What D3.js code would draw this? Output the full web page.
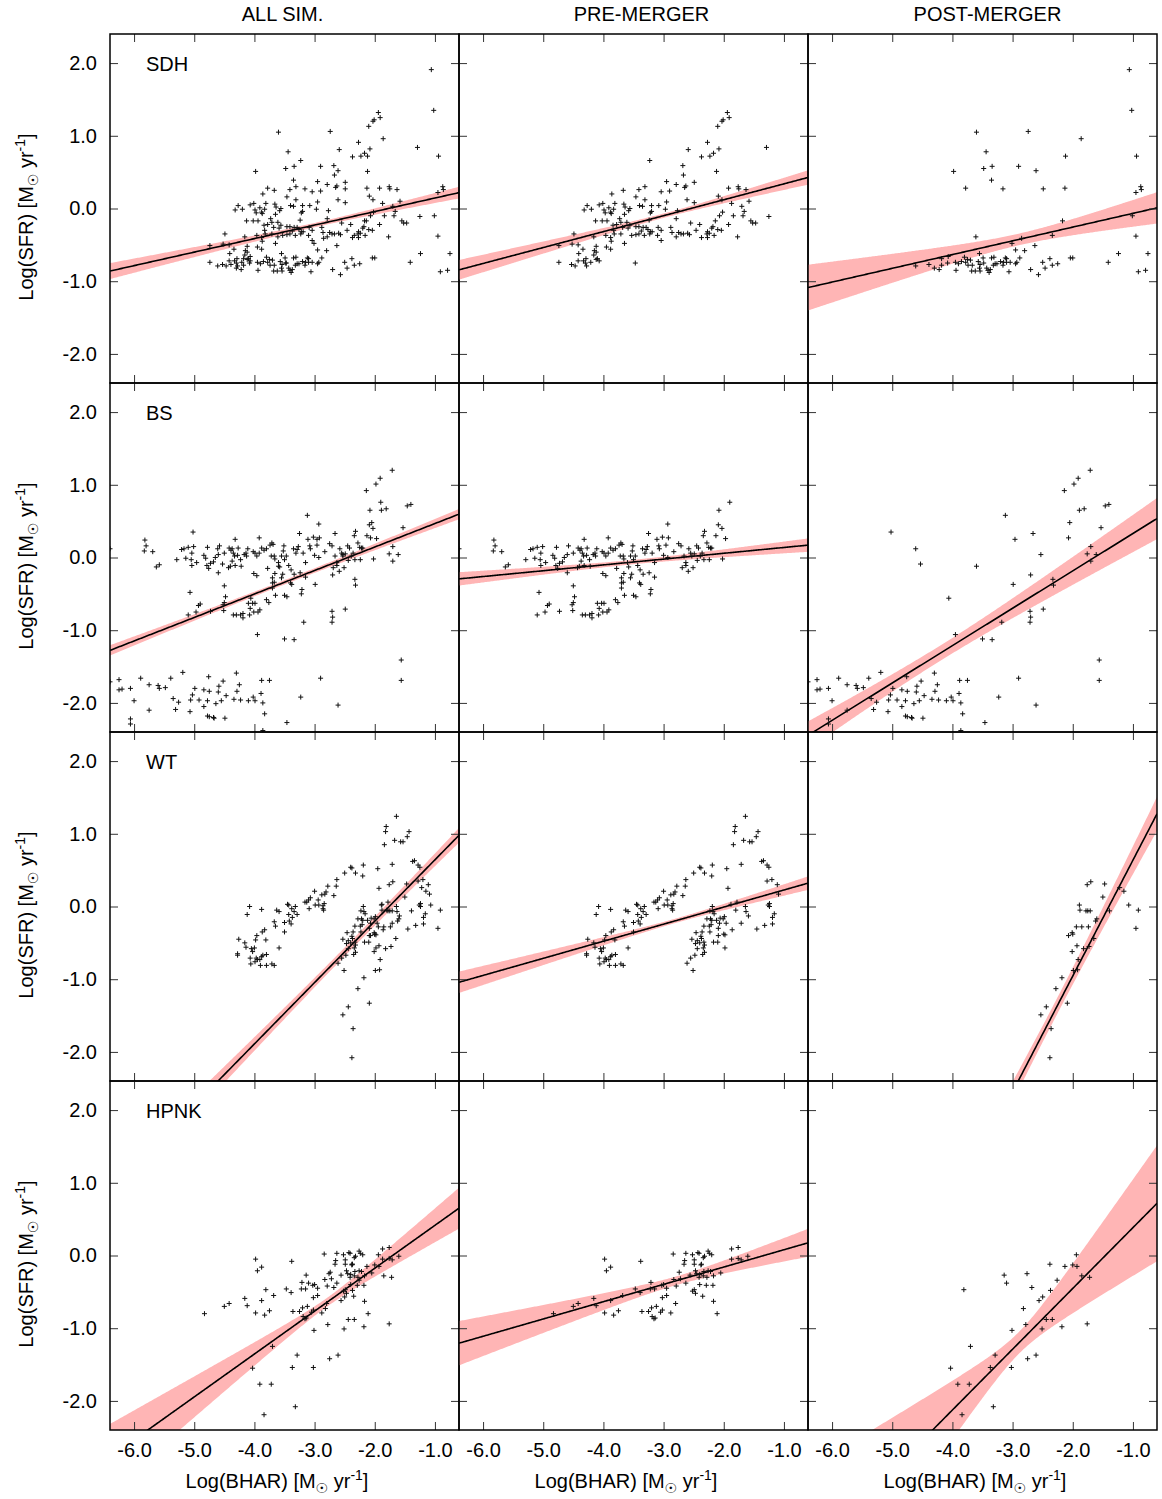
<!DOCTYPE html>
<html><head><meta charset="utf-8">
<script src="https://cdn.jsdelivr.net/npm/d3@7"></script>
<style>body{margin:0;background:#fff}</style>
</head><body><svg id="c" width="1162" height="1499"></svg>
<script>
const simulations = ["SDH","BS","WT","HPNK"];
const phases = ["ALL SIM.","PRE-MERGER","POST-MERGER"];
const xTicks = [-6,-5,-4,-3,-2,-1];
const yTicks = [-2,-1,0,1,2];
const xDomain = [-6.4,-0.6];
const yDomain = [-2.4,2.4];

const sdhPre = [[-1.94,1.32],[-1.91,1.25],[-2.01,1.22],[-2.03,1.20],[-2.10,1.13],[-2.27,0.91],[-2.08,0.82],[-2.17,0.76],[-2.23,0.72],[-2.37,0.71],[-2.59,0.81],[-1.29,0.84],[-3.23,0.66],[-2.68,0.59],[-2.67,0.46],[-2.12,0.51],[-2.95,0.37],[-2.49,0.36],[-2.79,0.33],[-2.63,0.31],[-2.65,0.29],[-3.67,0.25],[-3.86,0.20],[-3.41,0.26],[-3.31,0.30],[-2.90,0.24],[-3.04,0.23],[-2.61,0.12],[-3.31,0.12],[-3.46,0.16],[-2.95,0.09],[-1.92,0.28],[-1.76,0.30],[-1.63,0.26],[-1.75,0.27],[-2.09,0.17],[-2.03,0.12],[-2.49,0.08],[-1.58,0.10],[-1.87,0.07],[-3.20,0.04],[-3.08,0.04],[-3.35,0.03],[-3.40,0.04],[-4.01,0.07],[-4.07,0.05],[-3.81,0.07],[-3.66,0.06],[-3.64,0.02],[-3.58,-0.03],[-3.56,0.00],[-3.83,-0.01],[-3.91,0.01],[-3.88,-0.05],[-3.99,-0.02],[-3.97,-0.06],[-3.87,-0.07],[-4.27,0.04],[-4.20,-0.01],[-4.32,-0.02],[-2.97,-0.01],[-2.77,-0.03],[-2.79,-0.14],[-3.20,-0.04],[-3.24,-0.16],[-3.22,-0.06],[-3.73,-0.14],[-3.65,-0.08],[-4.13,-0.17],[-4.02,-0.17],[-3.94,-0.17],[-3.71,-0.19],[-3.61,-0.19],[-3.78,-0.22],[-3.56,-0.23],[-3.68,-0.26],[-3.59,-0.27],[-3.46,-0.25],[-3.41,-0.25],[-3.34,-0.26],[-3.29,-0.26],[-3.26,-0.29],[-3.37,-0.31],[-3.41,-0.35],[-3.46,-0.36],[-3.53,-0.37],[-3.32,-0.37],[-3.22,-0.32],[-3.19,-0.32],[-3.23,-0.35],[-3.09,-0.26],[-3.04,-0.30],[-3.10,-0.37],[-2.88,-0.26],[-2.86,-0.33],[-3.04,-0.44],[-2.79,-0.39],[-2.75,-0.33],[-2.71,-0.35],[-2.67,-0.35],[-2.60,-0.34],[-2.57,-0.36],[-2.55,-0.20],[-2.46,-0.30],[-2.40,-0.22],[-2.37,-0.40],[-2.27,-0.40],[-2.27,-0.32],[-2.28,-0.35],[-2.24,-0.34],[-2.20,-0.27],[-2.18,-0.25],[-2.16,-0.37],[-2.14,-0.17],[-2.10,-0.29],[-2.07,-0.10],[-2.04,-0.30],[-2.02,-0.05],[-1.92,-0.22],[-1.84,-0.10],[-1.77,-0.39],[-1.70,0.03],[-1.68,-0.10],[-1.66,-0.04],[-1.55,-0.17],[-1.52,-0.20],[-1.47,-0.20],[-1.25,-0.11],[-3.84,-0.23],[-3.83,-0.30],[-3.96,-0.37],[-3.88,-0.40],[-3.87,-0.45],[-3.88,-0.56],[-3.95,-0.53],[-4.12,-0.52],[-4.16,-0.39],[-4.12,-0.60],[-4.15,-0.58],[-4.16,-0.64],[-4.10,-0.69],[-4.07,-0.72],[-4.12,-0.70],[-4.29,-0.69],[-4.41,-0.62],[-4.34,-0.56],[-4.42,-0.50],[-4.52,-0.49],[-4.49,-0.35],[-4.74,-0.51],[-4.42,-0.72],[-4.33,-0.72],[-4.30,-0.75],[-4.21,-0.74],[-4.28,-0.79],[-4.53,-0.77],[-4.47,-0.79],[-4.74,-0.74],[-3.47,-0.75],[-3.65,-0.48],[-3.71,-0.35],[-3.82,-0.35]];
const sdhPost = [[-1.06,1.91],[-1.02,1.35],[-0.94,0.72],[-1.86,0.96],[-2.74,1.06],[-3.60,1.05],[-3.44,0.78],[-3.48,0.55],[-3.34,0.58],[-3.35,0.39],[-3.98,0.51],[-3.78,0.28],[-3.16,0.27],[-2.90,0.58],[-2.61,0.52],[-2.49,0.27],[-2.12,0.72],[-2.13,0.28],[-0.95,0.22],[-0.87,0.30],[-0.86,0.26],[-1.01,-0.10],[-0.95,-0.38],[-2.17,-0.17],[-2.34,-0.37],[-3.61,-0.39],[-3.01,-0.48],[-2.85,-0.41],[-2.95,-0.57],[-2.80,-0.58],[-2.63,-0.51],[-3.55,-0.62],[-4.61,-0.79],[-4.39,-0.77],[-4.30,-0.82],[-4.22,-0.84],[-4.18,-0.78],[-4.18,-0.69],[-4.07,-0.66],[-4.08,-0.75],[-3.95,-0.74],[-3.94,-0.85],[-3.90,-0.76],[-3.85,-0.73],[-3.80,-0.67],[-3.78,-0.74],[-3.75,-0.70],[-3.70,-0.71],[-3.67,-0.78],[-3.68,-0.86],[-3.62,-0.86],[-3.57,-0.73],[-3.55,-0.82],[-3.54,-0.86],[-3.49,-0.68],[-3.48,-0.75],[-3.43,-0.82],[-3.41,-0.85],[-3.39,-0.88],[-3.37,-0.84],[-3.32,-0.78],[-3.31,-0.67],[-3.29,-0.76],[-3.26,-0.76],[-3.20,-0.73],[-3.16,-0.78],[-3.15,-0.74],[-3.12,-0.68],[-3.10,-0.74],[-3.10,-0.69],[-3.06,-0.87],[-3.04,-0.74],[-2.95,-0.76],[-2.93,-0.74],[-2.88,-0.68],[-2.70,-0.84],[-2.57,-0.91],[-2.50,-0.74],[-2.46,-0.82],[-2.38,-0.69],[-2.34,-0.78],[-2.25,-0.76],[-2.04,-0.68],[-2.00,-0.68],[-1.41,-0.74],[-1.24,-0.62],[-0.75,-0.62],[-0.91,-0.87],[-0.79,-0.85],[-3.35,-0.68],[-3.54,-0.77],[-3.74,-0.78]];
const bsPre = [[-6.40,0.12],[-5.82,0.24],[-5.80,0.16],[-5.83,0.09],[-5.69,0.08],[-5.63,-0.13],[-5.58,-0.10],[-5.29,-0.03],[-5.21,0.11],[-5.17,0.12],[-5.10,0.14],[-5.01,0.15],[-5.04,0.06],[-5.14,-0.01],[-5.05,-0.03],[-5.04,-0.11],[-4.96,-0.07],[-4.78,0.14],[-4.84,0.03],[-4.81,-0.01],[-4.79,-0.11],[-4.76,-0.15],[-4.73,-0.08],[-4.68,-0.06],[-4.65,0.00],[-4.60,0.04],[-4.58,0.16],[-4.60,-0.21],[-4.50,0.06],[-4.42,0.13],[-4.39,0.10],[-4.37,0.12],[-4.35,0.06],[-4.33,0.02],[-4.37,-0.05],[-4.32,-0.11],[-4.40,-0.12],[-4.43,-0.14],[-4.32,0.25],[-4.27,0.13],[-4.28,0.03],[-4.23,-0.03],[-4.22,-0.12],[-4.17,0.04],[-4.14,0.06],[-4.11,0.12],[-4.13,0.02],[-4.02,0.08],[-3.99,0.06],[-3.96,0.02],[-3.92,0.27],[-3.92,0.06],[-3.88,0.13],[-3.84,0.10],[-3.80,0.12],[-3.78,-0.15],[-3.74,0.17],[-3.72,0.02],[-3.71,0.20],[-3.69,0.18],[-3.67,0.02],[-3.66,-0.02],[-3.60,-0.07],[-3.58,-0.13],[-3.55,0.02],[-3.51,0.16],[-3.52,0.09],[-3.50,-0.03],[-3.47,0.02],[-3.43,-0.11],[-3.39,-0.17],[-3.35,0.12],[-3.31,0.06],[-3.29,0.11],[-3.27,0.15],[-3.25,0.33],[-3.19,0.06],[-3.15,-0.07],[-3.11,0.25],[-3.08,0.16],[-3.07,0.12],[-3.02,0.28],[-3.00,0.03],[-2.96,0.17],[-2.93,0.46],[-2.92,0.27],[-2.93,0.00],[-2.83,0.08],[-2.75,0.19],[-2.71,0.16],[-2.69,-0.14],[-2.66,0.02],[-2.63,-0.07],[-2.58,0.12],[-2.55,0.06],[-2.53,0.02],[-2.49,0.05],[-2.45,0.16],[-2.44,-0.04],[-2.42,0.13],[-2.39,0.02],[-2.36,0.06],[-2.34,0.30],[-2.33,-0.03],[-2.32,0.36],[-2.28,0.20],[-2.25,0.14],[-2.22,0.13],[-2.20,0.13],[-2.24,-0.03],[-2.13,0.30],[-2.09,0.45],[-2.08,0.65],[-2.03,0.40],[-1.97,0.26],[-1.90,0.76],[-2.02,-0.02],[-2.59,-0.19],[-2.51,-0.14],[-2.63,-0.11],[-4.01,-0.22],[-3.96,-0.25],[-3.66,-0.22],[-3.53,-0.23],[-3.70,-0.28],[-3.70,-0.35],[-3.67,-0.34],[-3.70,-0.42],[-3.65,-0.52],[-3.50,-0.52],[-3.46,-0.54],[-3.40,-0.35],[-3.38,-0.37],[-3.34,-0.23],[-3.24,-0.21],[-3.21,-0.44],[-3.22,-0.50],[-3.15,-0.27],[-3.80,-0.58],[-3.76,-0.62],[-4.10,-0.63],[-4.07,-0.70],[-4.03,-0.63],[-3.99,-0.63],[-4.01,-0.75],[-3.94,-0.75],[-3.91,-0.72],[-4.08,-0.79],[-4.19,-0.77],[-4.23,-0.79],[-4.19,-0.83],[-4.30,-0.79],[-4.35,-0.79],[-4.50,-0.39],[-4.48,-0.54],[-4.50,-0.62],[-4.52,-0.65],[-4.51,-0.73],[-4.73,-0.74],[-4.90,-0.64],[-4.93,-0.66],[-4.97,-0.75],[-5.10,-0.79],[-5.07,-0.48],[-3.55,-0.28]];
const bsPost = [[-6.40,-1.71],[-6.25,-1.68],[-6.25,-1.82],[-6.20,-1.81],[-6.06,-1.80],[-6.00,-1.97],[-5.89,-1.66],[-5.75,-1.75],[-5.60,-1.76],[-5.58,-1.80],[-5.48,-1.79],[-5.39,-1.66],[-5.35,-1.94],[-5.31,-2.09],[-5.26,-1.99],[-5.19,-1.58],[-5.75,-2.10],[-6.06,-2.22],[-6.06,-2.29],[-5.07,-2.12],[-5.06,-1.96],[-5.03,-1.89],[-4.99,-1.80],[-4.92,-1.96],[-4.84,-2.05],[-4.84,-1.82],[-4.78,-1.97],[-4.78,-2.18],[-4.75,-1.84],[-4.75,-2.19],[-4.76,-1.64],[-4.68,-2.20],[-4.67,-2.21],[-4.64,-2.01],[-4.60,-1.85],[-4.59,-1.77],[-4.55,-1.97],[-4.52,-1.70],[-4.49,-2.21],[-4.47,-1.90],[-4.34,-1.95],[-4.30,-1.59],[-4.29,-1.84],[-4.25,-1.75],[-4.23,-1.96],[-4.10,-1.97],[-4.02,-1.92],[-3.99,-1.97],[-3.95,-1.06],[-3.89,-1.87],[-3.88,-1.69],[-3.86,-2.00],[-3.83,-2.15],[-3.75,-1.69],[-3.86,-2.38],[-3.46,-2.27],[-3.23,-1.92],[-2.90,-1.66],[-2.61,-2.03],[-3.50,-1.12],[-3.34,-1.13],[-3.18,-0.89],[-4.06,-0.56],[-3.60,-0.12],[-5.02,0.35],[-4.61,0.12],[-4.53,-0.09],[-3.12,0.58],[-2.96,0.25],[-2.99,-0.37],[-2.70,-0.24],[-2.66,0.33],[-2.53,0.04],[-2.71,-0.74],[-2.70,-0.82],[-2.71,-0.89],[-2.49,-0.71],[-2.33,-0.30],[-2.32,-0.38],[-2.14,0.92],[-1.98,1.01],[-1.91,1.09],[-1.71,1.20],[-2.07,0.27],[-2.05,0.48],[-1.89,0.65],[-1.81,0.67],[-1.46,0.71],[-1.40,0.73],[-1.53,0.41],[-1.70,0.15],[-1.76,0.05],[-1.70,-0.05],[-1.61,0.04],[-1.56,-1.41],[-1.56,-1.69]];
const wtPre = [[-1.64,1.24],[-1.81,1.10],[-1.82,1.03],[-1.84,0.85],[-1.67,0.91],[-1.57,0.89],[-1.53,0.89],[-1.46,0.96],[-1.43,1.03],[-1.71,0.58],[-1.95,0.52],[-2.40,0.54],[-2.38,0.53],[-2.32,0.46],[-2.20,0.42],[-2.19,0.57],[-2.50,0.46],[-2.63,0.37],[-2.64,0.28],[-2.78,0.28],[-2.81,0.20],[-2.83,0.17],[-2.88,0.16],[-2.68,0.15],[-3.00,0.21],[-2.94,0.09],[-2.99,0.02],[-2.93,0.02],[-2.86,0.01],[-2.84,0.04],[-2.85,-0.05],[-2.86,-0.03],[-3.10,0.09],[-3.13,0.06],[-3.09,-0.03],[-3.07,0.12],[-3.16,0.06],[-1.93,0.25],[-1.37,0.62],[-1.34,0.63],[-1.28,0.57],[-1.25,0.54],[-1.28,0.35],[-1.20,0.37],[-1.11,0.30],[-1.09,0.17],[-1.16,-0.10],[-1.19,-0.15],[-1.19,-0.24],[-1.32,-0.26],[-1.45,-0.31],[-1.24,0.04],[-1.24,0.00],[-1.26,0.02],[-1.64,0.00],[-1.63,-0.07],[-1.59,-0.13],[-1.71,-0.23],[-1.78,0.06],[-1.80,-0.05],[-1.88,0.03],[-1.86,-0.32],[-1.99,-0.14],[-2.01,-0.17],[-1.96,-0.23],[-2.07,-0.23],[-2.09,-0.30],[-2.12,-0.19],[-2.16,-0.10],[-2.19,0.00],[-2.18,-0.07],[-2.22,-0.17],[-2.24,-0.27],[-2.23,-0.35],[-2.28,-0.17],[-2.33,-0.27],[-2.36,-0.35],[-2.38,-0.41],[-2.33,-0.49],[-2.32,-0.53],[-2.37,-0.44],[-2.40,-0.50],[-2.34,-0.57],[-2.32,-0.63],[-2.35,-0.66],[-2.44,-0.58],[-2.46,-0.36],[-2.44,-0.47],[-2.47,-0.51],[-2.53,-0.45],[-2.48,-0.67],[-2.55,-0.71],[-2.61,-0.78],[-2.51,-0.88],[-2.17,-0.49],[-2.10,-0.49],[-2.09,-0.40],[-2.00,-0.38],[-1.98,-0.39],[-1.98,-0.57],[-2.06,-0.16],[-2.21,-0.25],[-2.23,-0.06],[-2.20,-0.19],[-4.08,0.00],[-4.12,-0.11],[-3.88,-0.04],[-3.63,-0.05],[-3.59,-0.07],[-3.45,0.03],[-3.43,0.02],[-3.38,-0.03],[-3.43,-0.11],[-3.42,-0.20],[-3.39,-0.24],[-3.34,-0.07],[-3.29,-0.11],[-3.32,0.00],[-3.37,-0.15],[-3.67,-0.21],[-3.65,-0.27],[-3.50,-0.22],[-3.50,-0.35],[-3.59,-0.57],[-3.87,-0.35],[-3.83,-0.32],[-3.81,-0.46],[-3.96,-0.40],[-3.98,-0.46],[-4.00,-0.57],[-4.05,-0.58],[-4.03,-0.62],[-4.14,-0.56],[-4.16,-0.50],[-4.26,-0.45],[-4.28,-0.65],[-4.28,-0.67],[-4.07,-0.71],[-4.06,-0.79],[-3.99,-0.76],[-3.95,-0.73],[-3.90,-0.81],[-3.88,-0.69],[-3.86,-0.67],[-3.80,-0.66],[-3.80,-0.81],[-3.71,-0.79],[-3.67,-0.81],[-3.91,-0.73],[-3.97,-0.71]];
const wtPost = [[-1.70,0.34],[-1.76,0.30],[-1.47,0.31],[-1.50,0.13],[-1.89,0.02],[-1.88,-0.05],[-1.78,-0.06],[-1.75,-0.06],[-1.71,-0.06],[-1.39,-0.06],[-1.22,0.26],[-1.15,0.21],[-1.07,0.02],[-0.91,-0.05],[-0.95,-0.30],[-1.94,-0.28],[-1.85,-0.28],[-1.74,-0.28],[-1.60,-0.17],[-1.62,-0.20],[-2.01,-0.36],[-2.00,-0.38],[-2.07,-0.40],[-1.65,-0.44],[-1.73,-0.55],[-1.82,-0.58],[-1.93,-0.54],[-2.01,-0.62],[-1.91,-0.73],[-1.99,-0.88],[-1.92,-0.87],[-2.18,-0.98],[-2.28,-1.13],[-2.09,-1.33],[-2.44,-1.38],[-2.53,-1.49],[-2.36,-1.68],[-2.38,-2.08]];
const hpnkPre = [[-4.83,-0.80],[-4.50,-0.70],[-4.42,-0.66],[-4.16,-0.59],[-4.12,-0.69],[-3.88,-0.62],[-3.68,-0.55],[-3.47,-0.46],[-3.39,-0.51],[-3.21,-0.37],[-3.22,-0.46],[-3.15,-0.46],[-3.03,-0.41],[-3.00,-0.40],[-2.95,-0.45],[-2.95,-0.55],[-3.02,-0.58],[-2.79,-0.42],[-2.83,-0.33],[-2.72,-0.32],[-2.74,-0.23],[-2.63,-0.38],[-2.56,-0.27],[-2.66,-0.12],[-2.65,-0.07],[-2.63,0.03],[-2.84,0.02],[-2.49,-0.06],[-2.52,0.01],[-2.49,-0.12],[-2.43,0.04],[-2.41,0.03],[-2.37,-0.12],[-2.34,-0.03],[-2.32,-0.01],[-2.26,0.06],[-2.24,0.03],[-2.20,0.01],[-2.33,-0.22],[-2.26,-0.21],[-2.28,-0.30],[-2.17,-0.28],[-2.34,-0.28],[-2.40,-0.26],[-2.41,-0.30],[-2.45,-0.25],[-2.47,-0.21],[-2.05,-0.24],[-2.22,-0.22],[-2.38,-0.13],[-2.49,-0.47],[-2.52,-0.49],[-2.47,-0.52],[-2.40,-0.40],[-2.29,-0.41],[-2.18,-0.41],[-2.35,-0.56],[-2.17,-0.63],[-2.11,-0.80],[-1.87,0.09],[-1.76,0.11],[-1.87,-0.05],[-1.76,-0.04],[-1.71,-0.06],[-1.60,-0.01],[-3.98,-0.05],[-3.95,-0.21],[-3.88,-0.16],[-3.38,-0.08],[-3.98,-0.79],[-3.83,-0.82],[-3.75,-0.76],[-3.36,-0.77],[-3.25,-0.77],[-3.20,-0.72],[-3.12,-0.70],[-3.19,-0.84],[-3.16,-0.87],[-3.05,-0.78],[-3.02,-0.75],[-2.88,-0.79],[-2.80,-0.66],[-3.14,-0.86]];
const hpnkPost = [[-1.94,0.01],[-2.38,-0.12],[-2.13,-0.15],[-2.00,-0.13],[-1.93,-0.15],[-3.14,-0.27],[-2.76,-0.25],[-3.10,-0.38],[-1.85,-0.28],[-1.72,-0.30],[-2.26,-0.34],[-3.81,-0.47],[-2.68,-0.44],[-2.37,-0.48],[-2.50,-0.57],[-2.56,-0.62],[-2.82,-0.73],[-2.44,-0.88],[-2.34,-0.88],[-2.78,-0.95],[-2.51,-1.01],[-2.18,-0.98],[-1.76,-0.94],[-3.01,-1.03],[-3.70,-1.25],[-3.29,-1.37],[-2.75,-1.42],[-2.61,-1.37],[-3.37,-1.54],[-3.02,-1.54],[-4.03,-1.55],[-3.91,-1.77],[-3.72,-1.77],[-3.32,-2.08],[-3.84,-2.19]];

// fit line (y = a + b x) and confidence band per [simulation][phase]
const fitIntercept = [[0.330,0.558,0.122],[0.790,0.218,0.844],[1.486,0.462,2.230],[1.005,0.317,1.219]];
const fitSlope = [[0.186,0.219,0.189],[0.323,0.080,0.514],[0.844,0.235,1.593],[0.590,0.238,0.836]];
const bandCenter = [[-3.0,-3.0,-2.9],[-3.5,-3.5,-4.2],[-2.4,-2.8,-2.3],[-2.8,-2.8,-2.9]];
const bandMin = [[0.03,0.03,0.08],[0.03,0.03,0.105],[0.06,0.03,0.11],[0.06,0.06,0.15]];
const bandSlopeErr = [[0.031,0.039,0.087],[0.022,0.030,0.073],[0.045,0.040,0.121],[0.125,0.083,0.34]];

const seriesBySim = [[sdhPre,sdhPost],[bsPre,bsPost],[wtPre,wtPost],[hpnkPre,hpnkPost]];

const W = 349, H = 349;
const lefts = [110, 459, 808];
const tops = [34, 383, 732, 1081];
const titleOffset = [-2, 8, 5];
const FONT = "'Liberation Sans', Arial, Helvetica, 'DejaVu Sans', sans-serif";
const fmt = v => v.toFixed(1);
const blank = () => "";

const svg = d3.select("#c").style("font-family", FONT);
const defs = svg.append("defs");

simulations.forEach((sim, r) => {
  const [pre, post] = seriesBySim[r];
  const sets = [pre.concat(post), pre, post];
  phases.forEach((ph, c) => {
    const x = d3.scaleLinear().domain(xDomain).range([lefts[c], lefts[c] + W]);
    const y = d3.scaleLinear().domain(yDomain).range([tops[r] + H, tops[r]]);
    const id = `clip${r}${c}`;
    defs.append("clipPath").attr("id", id).append("rect")
      .attr("x", lefts[c]).attr("y", tops[r]).attr("width", W).attr("height", H);
    const g = svg.append("g");
    const cg = g.append("g").attr("clip-path", `url(#${id})`);
    const a = fitIntercept[r][c], b = fitSlope[r][c];
    const xc = bandCenter[r][c], s0 = bandMin[r][c], sb = bandSlopeErr[r][c];
    const hw = t => Math.sqrt(s0 * s0 + sb * sb * (t - xc) * (t - xc));
    const xs = d3.range(xDomain[0], xDomain[1] + 1e-6, 0.02);
    cg.append("path").datum(xs)
      .attr("d", d3.area().x(t => x(t)).y0(t => y(a + b * t - hw(t))).y1(t => y(a + b * t + hw(t))))
      .attr("fill", "#ffb5b5");
    cg.append("path").datum(xs)
      .attr("d", d3.line().x(t => x(t)).y(t => y(a + b * t)))
      .attr("fill", "none").attr("stroke", "#000").attr("stroke-width", 1.6);
    cg.selectAll("path.pt").data(sets[c]).join("path").attr("class", "pt")
      .attr("transform", d => `translate(${x(d[0])},${y(d[1])})`)
      .attr("d", "M-2.5,0H2.5M0,-2.5V2.5")
      .attr("stroke", "#111").attr("stroke-width", 1).attr("fill", "none");

    const axB = g.append("g").attr("transform", `translate(0,${tops[r] + H})`)
      .call(d3.axisBottom(x).tickValues(xTicks).tickSize(-8).tickPadding(13).tickFormat(r === 3 ? fmt : blank));
    const axT = g.append("g").attr("transform", `translate(0,${tops[r]})`)
      .call(d3.axisTop(x).tickValues(xTicks).tickSize(-8).tickFormat(blank));
    const axL = g.append("g").attr("transform", `translate(${lefts[c]},0)`)
      .call(d3.axisLeft(y).tickValues(yTicks).tickSize(-8).tickPadding(13).tickFormat(c === 0 ? fmt : blank));
    const axR = g.append("g").attr("transform", `translate(${lefts[c] + W},0)`)
      .call(d3.axisRight(y).tickValues(yTicks).tickSize(-8).tickFormat(blank));
    [axB, axT, axL, axR].forEach(ax => {
      ax.select(".domain").remove();
      ax.selectAll(".tick line").attr("stroke", "#333").attr("stroke-width", 1);
      ax.selectAll("text").attr("font-size", 20).attr("font-family", FONT).attr("fill", "#000");
    });
    g.append("rect").attr("x", lefts[c]).attr("y", tops[r]).attr("width", W).attr("height", H)
      .attr("fill", "none").attr("stroke", "#000").attr("stroke-width", 1.5);
  });
  // simulation label
  svg.append("text").attr("x", lefts[0] + 36).attr("y", tops[r] + 37)
    .attr("font-size", 20).text(sim);
  // y axis title
  const yt = svg.append("text").attr("text-anchor", "middle").attr("font-size", 20)
    .attr("transform", `translate(33,${tops[r] + 183}) rotate(-90)`);
  yt.append("tspan").text("Log(SFR) [M");
  yt.append("tspan").attr("dy", 5).attr("font-size", 14).text("☉");
  yt.append("tspan").attr("dy", -5).text(" yr");
  yt.append("tspan").attr("dy", -8).attr("font-size", 14).text("-1");
  yt.append("tspan").attr("dy", 8).text("]");
});

phases.forEach((ph, c) => {
  svg.append("text").attr("x", lefts[c] + W / 2 + titleOffset[c]).attr("y", 21)
    .attr("text-anchor", "middle").attr("font-size", 20).text(ph);
  const xt = svg.append("text").attr("x", lefts[c] + 167).attr("y", 1488)
    .attr("text-anchor", "middle").attr("font-size", 20);
  xt.append("tspan").text("Log(BHAR) [M");
  xt.append("tspan").attr("dy", 5).attr("font-size", 14).text("☉");
  xt.append("tspan").attr("dy", -5).text(" yr");
  xt.append("tspan").attr("dy", -8).attr("font-size", 14).text("-1");
  xt.append("tspan").attr("dy", 8).text("]");
});
</script></body></html>
